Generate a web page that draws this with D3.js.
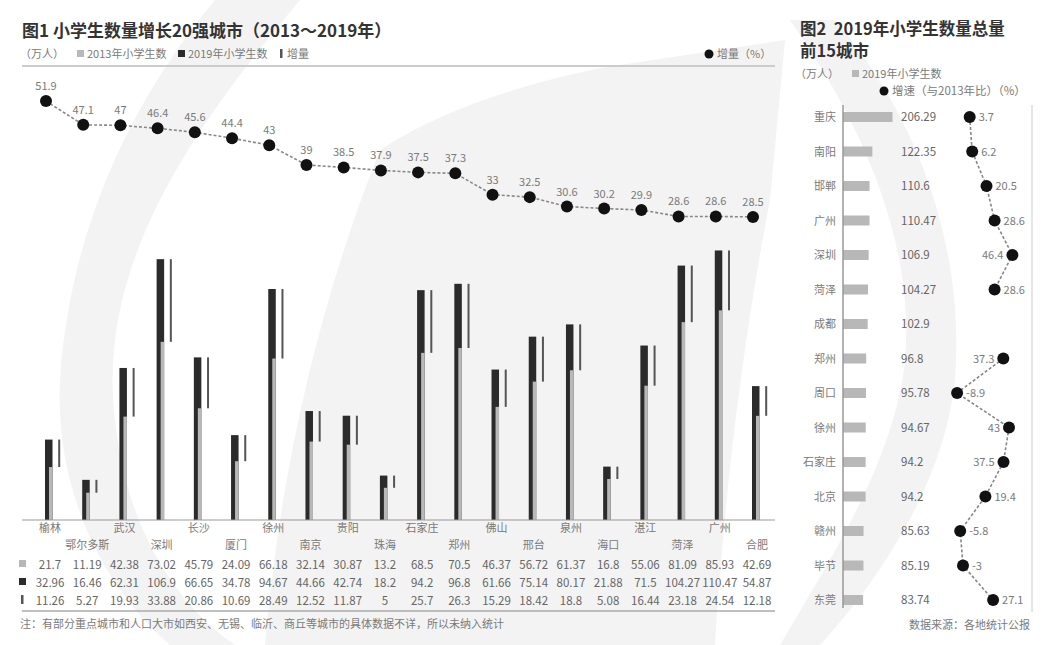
<!DOCTYPE html>
<html><head><meta charset="utf-8">
<script src="https://cdn.jsdelivr.net/npm/d3@7"></script>
<style>
body{margin:0;background:#fff;}
text{font-family:"Noto Sans CJK SC","Noto Sans",sans-serif;}
</style></head>
<body><svg id="c" width="1059" height="645"></svg>
<script>
// ---- Figure 1 data ----
const cities1 = ["榆林","鄂尔多斯","武汉","深圳","长沙","厦门","徐州","南京","贵阳","珠海","石家庄","郑州","佛山","邢台","泉州","海口","湛江","菏泽","广州","合肥"];
const v2013 = [21.7,11.19,42.38,73.02,45.79,24.09,66.18,32.14,30.87,13.2,68.5,70.5,46.37,56.72,61.37,16.8,55.06,81.09,85.93,42.69];
const v2019 = [32.96,16.46,62.31,106.9,66.65,34.78,94.67,44.66,42.74,18.2,94.2,96.8,61.66,75.14,80.17,21.88,71.5,104.27,110.47,54.87];
const increase = [11.26,5.27,19.93,33.88,20.86,10.69,28.49,12.52,11.87,5,25.7,26.3,15.29,18.42,18.8,5.08,16.44,23.18,24.54,12.18];
const growthPct1 = [51.9,47.1,47,46.4,45.6,44.4,43,39,38.5,37.9,37.5,37.3,33,32.5,30.6,30.2,29.9,28.6,28.6,28.5];

// ---- Figure 2 data ----
const cities2 = ["重庆","南阳","邯郸","广州","深圳","菏泽","成都","郑州","周口","徐州","石家庄","北京","赣州","毕节","东莞"];
const students2019 = [206.29,122.35,110.6,110.47,106.9,104.27,102.9,96.8,95.78,94.67,94.2,94.2,85.63,85.19,83.74];
const growthPct2 = [3.7,6.2,20.5,28.6,46.4,28.6,null,37.3,-8.9,43,37.5,19.4,-5.8,-3,27.1];

const svg = d3.select("#c");
const GRAY_TXT = "#7a7a7a", DARK = "#2b2b2b", LIGHT = "#b8b8b8", INC = "#555";

// faint background watermark
const bg = svg.append("g").attr("fill","#f3f3f3");
bg.append("path").attr("d","M215 0 L300 0 C200 120 95 260 115 420 C125 520 170 600 235 645 L170 645 C95 580 55 480 60 380 C70 220 140 90 215 0 Z");
bg.append("path").attr("d","M600 68 L785 40 L770 200 C745 330 725 480 715 645 L265 645 C280 470 320 300 380 150 C440 110 520 85 600 68 Z");
bg.append("path").attr("d","M790 20 L835 20 C920 120 965 250 955 380 C945 480 880 580 820 645 L780 645 C830 560 895 460 905 360 C915 240 860 120 790 20 Z");

// ================= Figure 1 =================
svg.append("text").attr("x",22).attr("y",37).attr("font-size",17).attr("font-weight","bold").attr("fill","#333")
  .text("图1 小学生数量增长20强城市（2013～2019年）");

// legend
const lg = svg.append("g").attr("font-size",11).attr("fill",GRAY_TXT);
lg.append("text").attr("x",20).attr("y",58).text("（万人）");
lg.append("rect").attr("x",77).attr("y",50).attr("width",7).attr("height",7).attr("fill",LIGHT);
lg.append("text").attr("x",87).attr("y",58).text("2013年小学生数");
lg.append("rect").attr("x",178).attr("y",50).attr("width",7).attr("height",7).attr("fill",DARK);
lg.append("text").attr("x",188).attr("y",58).text("2019年小学生数");
lg.append("rect").attr("x",280).attr("y",49).attr("width",2.5).attr("height",9).attr("fill",INC);
lg.append("text").attr("x",287).attr("y",58).text("增量");
svg.append("circle").attr("cx",709).attr("cy",54).attr("r",4.5).attr("fill","#111");
svg.append("text").attr("x",717).attr("y",58).attr("font-size",11).attr("fill",GRAY_TXT).text("增量（%）");
svg.append("line").attr("x1",22).attr("x2",775).attr("y1",66).attr("y2",66).attr("stroke","#ccc").attr("stroke-width",2);

const x1 = d3.scalePoint().domain(cities1).range([46,753]);
const yBar = d3.scaleLinear().domain([0,120]).range([520,227.2]);
const yPct = d3.scaleLinear().domain([0,60]).range([358,61]);

const groups = svg.append("g").selectAll("g").data(cities1).join("g");
groups.append("rect").attr("x",d=>x1(d)-1).attr("width",7.5)
  .attr("y",(d,i)=>yBar(v2019[i])).attr("height",(d,i)=>yBar(0)-yBar(v2019[i])).attr("fill",DARK);
groups.append("rect").attr("x",d=>x1(d)+3).attr("width",3.5)
  .attr("y",(d,i)=>yBar(v2013[i])).attr("height",(d,i)=>yBar(0)-yBar(v2013[i])).attr("fill",LIGHT);
groups.append("rect").attr("x",d=>x1(d)+12.2).attr("width",2)
  .attr("y",(d,i)=>yBar(v2019[i])).attr("height",(d,i)=>yBar(v2019[i]-increase[i])-yBar(v2019[i])).attr("fill",INC);

svg.append("line").attr("x1",22).attr("x2",775).attr("y1",520).attr("y2",520).attr("stroke","#999").attr("stroke-width",1.2);

svg.append("g").selectAll("text").data(cities1).join("text")
  .attr("x",d=>x1(d)+4).attr("y",(d,i)=>i%2===0?532:549)
  .attr("text-anchor","middle").attr("font-size",11).attr("fill",GRAY_TXT).text(d=>d);

const pctLine = d3.line().x((d,i)=>x1(cities1[i])).y(d=>yPct(d));
svg.append("path").attr("d",pctLine(growthPct1)).attr("fill","none").attr("stroke","#888")
  .attr("stroke-width",1.6).attr("stroke-dasharray","3,2");
svg.append("g").selectAll("circle").data(growthPct1).join("circle")
  .attr("cx",(d,i)=>x1(cities1[i])).attr("cy",d=>yPct(d)).attr("r",6).attr("fill","#111");
svg.append("g").selectAll("text").data(growthPct1).join("text")
  .attr("x",(d,i)=>x1(cities1[i])).attr("y",d=>yPct(d)-11)
  .attr("text-anchor","middle").attr("font-size",11).attr("fill",GRAY_TXT).text(d=>d);

const rows = [v2013, v2019, increase];
const rowY = [569, 587, 605];
rows.forEach((arr,r)=>{
  svg.append("g").selectAll("text").data(arr).join("text")
    .attr("x",(d,i)=>x1(cities1[i])+4).attr("y",rowY[r])
    .attr("text-anchor","middle").attr("font-size",11.5).attr("fill","#666").text(d=>d);
});
svg.append("rect").attr("x",19).attr("y",560).attr("width",7).attr("height",7).attr("fill",LIGHT);
svg.append("rect").attr("x",19).attr("y",578).attr("width",7).attr("height",7).attr("fill",DARK);
svg.append("rect").attr("x",21).attr("y",595).attr("width",2.5).attr("height",9).attr("fill",INC);
svg.append("line").attr("x1",22).attr("x2",775).attr("y1",611).attr("y2",611).attr("stroke","#aaa").attr("stroke-width",1.5);
svg.append("text").attr("x",20).attr("y",628).attr("font-size",11).attr("fill",GRAY_TXT)
  .text("注：有部分重点城市和人口大市如西安、无锡、临沂、商丘等城市的具体数据不详，所以未纳入统计");

// ================= Figure 2 =================
svg.append("text").attr("x",800).attr("y",35).attr("font-size",16.5).attr("font-weight","bold").attr("fill","#333")
  .style("white-space","pre").text("图2  2019年小学生数量总量");
svg.append("text").attr("x",800).attr("y",57).attr("font-size",16.5).attr("font-weight","bold").attr("fill","#333")
  .text("前15城市");
svg.append("text").attr("x",795).attr("y",78).attr("font-size",11).attr("fill",GRAY_TXT).text("（万人）");
svg.append("rect").attr("x",852).attr("y",70).attr("width",7).attr("height",7).attr("fill",LIGHT);
svg.append("text").attr("x",862).attr("y",78).attr("font-size",11).attr("fill",GRAY_TXT).text("2019年小学生数");
svg.append("circle").attr("cx",884).attr("cy",91).attr("r",4.5).attr("fill","#111");
svg.append("text").attr("x",892).attr("y",95).attr("font-size",11.5).attr("fill",GRAY_TXT).text("增速（与2013年比）（%）");

const y2 = d3.scalePoint().domain(cities2).range([117,600]);
const xBar2 = d3.scaleLinear().domain([0,250]).range([843,903]);
const xG = d3.scaleLinear().domain([-10,50]).range([956,1016]);

svg.append("line").attr("x1",1032).attr("x2",1032).attr("y1",105).attr("y2",612).attr("stroke","#ddd").attr("stroke-width",1.5);

svg.append("g").selectAll("rect").data(students2019).join("rect")
  .attr("x",xBar2(0)).attr("y",(d,i)=>y2(cities2[i])-5).attr("height",10)
  .attr("width",d=>xBar2(d)-xBar2(0)).attr("fill",LIGHT);
svg.append("line").attr("x1",843).attr("x2",843).attr("y1",105).attr("y2",608).attr("stroke","#999").attr("stroke-width",1.5);

svg.append("g").selectAll("text").data(cities2).join("text")
  .attr("x",836).attr("y",d=>y2(d)+4).attr("text-anchor","end").attr("font-size",11).attr("fill",GRAY_TXT).text(d=>d);
svg.append("g").selectAll("text").data(students2019).join("text")
  .attr("x",901).attr("y",(d,i)=>y2(cities2[i])+4).attr("font-size",11.5).attr("fill","#666").text(d=>d);

const gLine = d3.line().defined(d=>d!==null).x(d=>xG(d)).y((d,i)=>y2(cities2[i]));
svg.append("path").attr("d",gLine(growthPct2)).attr("fill","none").attr("stroke","#888")
  .attr("stroke-width",1.6).attr("stroke-dasharray","3,2");
const gp = growthPct2.map((v,i)=>({v,c:cities2[i]})).filter(d=>d.v!==null);
svg.append("g").selectAll("circle").data(gp).join("circle")
  .attr("cx",d=>xG(d.v)).attr("cy",d=>y2(d.c)).attr("r",6).attr("fill","#111");
svg.append("g").selectAll("text").data(gp).join("text")
  .attr("x",d=>d.v>35?xG(d.v)-9:xG(d.v)+9).attr("y",d=>y2(d.c)+4)
  .attr("text-anchor",d=>d.v>35?"end":"start").attr("font-size",11).attr("fill",GRAY_TXT).text(d=>d.v);

svg.append("text").attr("x",1030).attr("y",629).attr("text-anchor","end").attr("font-size",11).attr("fill",GRAY_TXT)
  .text("数据来源：各地统计公报");
</script></body></html>
